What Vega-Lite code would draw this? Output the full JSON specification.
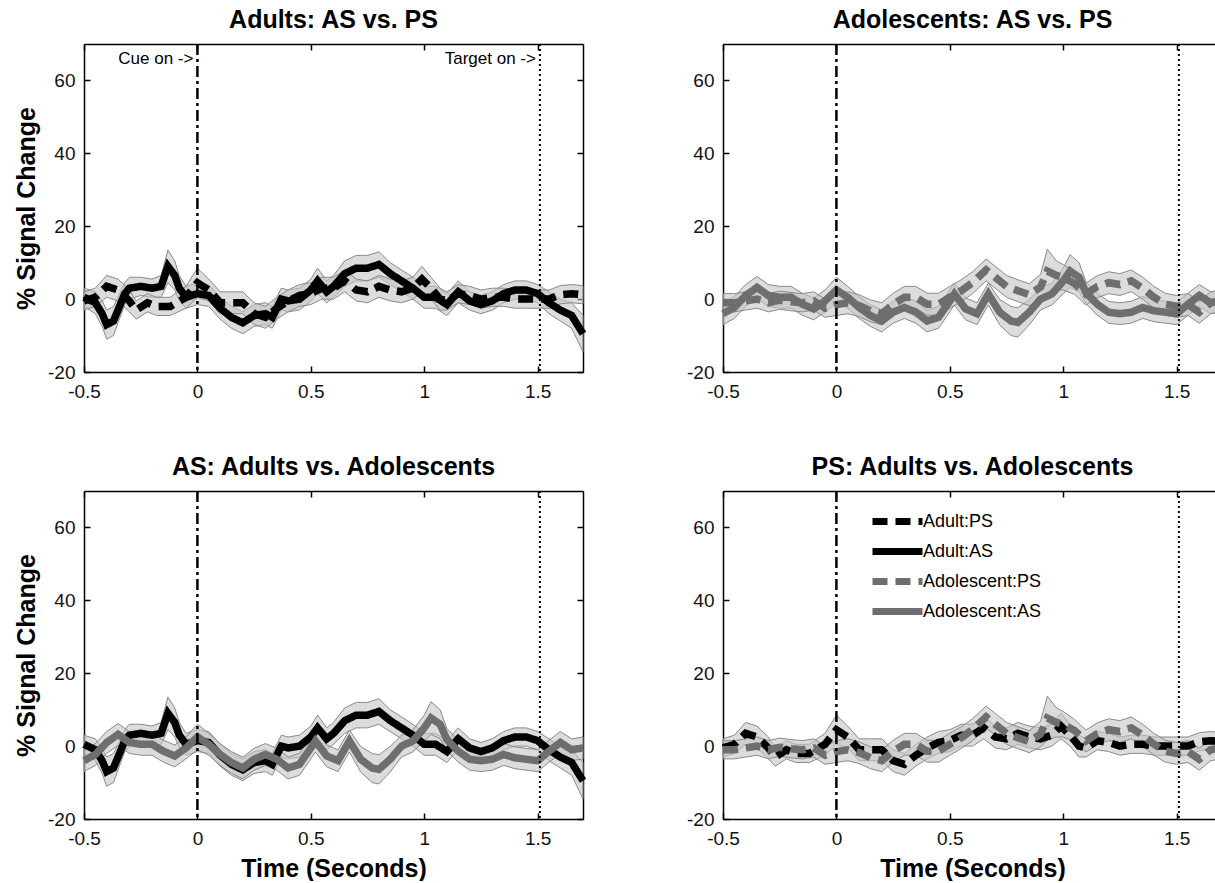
{
"$schema": "https://vega.github.io/schema/vega-lite/v6.json",
"background": "white",
"padding": {"left": 14, "top": 7, "right": 0, "bottom": 0},
"datasets": {
"sig": [
{"s":"Adult:AS","t":-0.5,"v":0.5,"lo":-2,"hi":3},
{"s":"Adult:AS","t":-0.45,"v":-1,"lo":-4,"hi":2},
{"s":"Adult:AS","t":-0.42,"v":-4,"lo":-7.5,"hi":-0.5},
{"s":"Adult:AS","t":-0.4,"v":-7,"lo":-11,"hi":-3},
{"s":"Adult:AS","t":-0.37,"v":-6,"lo":-10,"hi":-2},
{"s":"Adult:AS","t":-0.35,"v":-3,"lo":-6.5,"hi":0.5},
{"s":"Adult:AS","t":-0.32,"v":1.5,"lo":-1.5,"hi":4.5},
{"s":"Adult:AS","t":-0.3,"v":3,"lo":0,"hi":6},
{"s":"Adult:AS","t":-0.25,"v":3.5,"lo":1,"hi":6},
{"s":"Adult:AS","t":-0.2,"v":3,"lo":0.5,"hi":5.5},
{"s":"Adult:AS","t":-0.16,"v":3.5,"lo":0.5,"hi":6.5},
{"s":"Adult:AS","t":-0.13,"v":9,"lo":4.5,"hi":13.5},
{"s":"Adult:AS","t":-0.1,"v":6.5,"lo":2.5,"hi":10.5},
{"s":"Adult:AS","t":-0.08,"v":3,"lo":-0.5,"hi":6.5},
{"s":"Adult:AS","t":-0.05,"v":0.5,"lo":-2.5,"hi":3.5},
{"s":"Adult:AS","t":0,"v":1.5,"lo":-1.5,"hi":4.5},
{"s":"Adult:AS","t":0.05,"v":1,"lo":-2,"hi":4},
{"s":"Adult:AS","t":0.1,"v":-2.5,"lo":-5.5,"hi":0.5},
{"s":"Adult:AS","t":0.15,"v":-5,"lo":-8,"hi":-2},
{"s":"Adult:AS","t":0.2,"v":-6.5,"lo":-9.5,"hi":-3.5},
{"s":"Adult:AS","t":0.25,"v":-4.5,"lo":-7.5,"hi":-1.5},
{"s":"Adult:AS","t":0.3,"v":-4,"lo":-7,"hi":-1},
{"s":"Adult:AS","t":0.33,"v":-5,"lo":-8,"hi":-2},
{"s":"Adult:AS","t":0.37,"v":0,"lo":-3,"hi":3},
{"s":"Adult:AS","t":0.4,"v":-0.5,"lo":-3.5,"hi":2.5},
{"s":"Adult:AS","t":0.45,"v":0,"lo":-3,"hi":3},
{"s":"Adult:AS","t":0.5,"v":2.5,"lo":-0.5,"hi":5.5},
{"s":"Adult:AS","t":0.53,"v":5,"lo":1.5,"hi":8.5},
{"s":"Adult:AS","t":0.57,"v":2,"lo":-1,"hi":5},
{"s":"Adult:AS","t":0.6,"v":3.5,"lo":0.5,"hi":6.5},
{"s":"Adult:AS","t":0.65,"v":7,"lo":3.5,"hi":10.5},
{"s":"Adult:AS","t":0.7,"v":8.5,"lo":5,"hi":12},
{"s":"Adult:AS","t":0.75,"v":8.5,"lo":5,"hi":12},
{"s":"Adult:AS","t":0.8,"v":9.5,"lo":6,"hi":13},
{"s":"Adult:AS","t":0.85,"v":7,"lo":4,"hi":10},
{"s":"Adult:AS","t":0.9,"v":5,"lo":2,"hi":8},
{"s":"Adult:AS","t":0.95,"v":3,"lo":0,"hi":6},
{"s":"Adult:AS","t":1.0,"v":0.5,"lo":-2.5,"hi":3.5},
{"s":"Adult:AS","t":1.05,"v":0.5,"lo":-2.5,"hi":3.5},
{"s":"Adult:AS","t":1.1,"v":-1.5,"lo":-4.5,"hi":1.5},
{"s":"Adult:AS","t":1.15,"v":2,"lo":-1,"hi":5},
{"s":"Adult:AS","t":1.2,"v":-0.5,"lo":-3,"hi":2},
{"s":"Adult:AS","t":1.25,"v":-1.5,"lo":-4,"hi":1},
{"s":"Adult:AS","t":1.3,"v":-0.5,"lo":-3,"hi":2},
{"s":"Adult:AS","t":1.35,"v":1.5,"lo":-1,"hi":4},
{"s":"Adult:AS","t":1.4,"v":2.5,"lo":0,"hi":5},
{"s":"Adult:AS","t":1.45,"v":2.5,"lo":0,"hi":5},
{"s":"Adult:AS","t":1.5,"v":1.5,"lo":-1,"hi":4},
{"s":"Adult:AS","t":1.55,"v":-1,"lo":-4,"hi":2},
{"s":"Adult:AS","t":1.6,"v":-3,"lo":-6,"hi":0},
{"s":"Adult:AS","t":1.65,"v":-4.5,"lo":-8,"hi":-1},
{"s":"Adult:AS","t":1.7,"v":-9.5,"lo":-14.5,"hi":-4.5},
{"s":"Adult:PS","t":-0.5,"v":-0.5,"lo":-3,"hi":2},
{"s":"Adult:PS","t":-0.45,"v":0.5,"lo":-2,"hi":3},
{"s":"Adult:PS","t":-0.4,"v":3.5,"lo":0.5,"hi":6.5},
{"s":"Adult:PS","t":-0.35,"v":2.5,"lo":-0.5,"hi":5.5},
{"s":"Adult:PS","t":-0.3,"v":-0.5,"lo":-3.5,"hi":2.5},
{"s":"Adult:PS","t":-0.27,"v":-3,"lo":-5.5,"hi":-0.5},
{"s":"Adult:PS","t":-0.22,"v":-1,"lo":-3.5,"hi":1.5},
{"s":"Adult:PS","t":-0.18,"v":-2,"lo":-4.5,"hi":0.5},
{"s":"Adult:PS","t":-0.12,"v":-2,"lo":-4.5,"hi":0.5},
{"s":"Adult:PS","t":-0.05,"v":0.5,"lo":-2.5,"hi":3.5},
{"s":"Adult:PS","t":0,"v":4.5,"lo":0.5,"hi":8.5},
{"s":"Adult:PS","t":0.05,"v":2.5,"lo":-0.5,"hi":5.5},
{"s":"Adult:PS","t":0.1,"v":-1,"lo":-4,"hi":2},
{"s":"Adult:PS","t":0.15,"v":-1,"lo":-4,"hi":2},
{"s":"Adult:PS","t":0.2,"v":-1,"lo":-4,"hi":2},
{"s":"Adult:PS","t":0.25,"v":-4,"lo":-7,"hi":-1},
{"s":"Adult:PS","t":0.3,"v":-5,"lo":-8,"hi":-2},
{"s":"Adult:PS","t":0.35,"v":-2.5,"lo":-5.5,"hi":0.5},
{"s":"Adult:PS","t":0.4,"v":-0.5,"lo":-3.5,"hi":2.5},
{"s":"Adult:PS","t":0.45,"v":1,"lo":-2,"hi":4},
{"s":"Adult:PS","t":0.5,"v":1.5,"lo":-1.5,"hi":4.5},
{"s":"Adult:PS","t":0.55,"v":3,"lo":0,"hi":6},
{"s":"Adult:PS","t":0.6,"v":3,"lo":0,"hi":6},
{"s":"Adult:PS","t":0.65,"v":5,"lo":2,"hi":8},
{"s":"Adult:PS","t":0.7,"v":2.5,"lo":-0.5,"hi":5.5},
{"s":"Adult:PS","t":0.75,"v":2,"lo":-1,"hi":5},
{"s":"Adult:PS","t":0.8,"v":3.5,"lo":0.5,"hi":6.5},
{"s":"Adult:PS","t":0.85,"v":2.5,"lo":-0.5,"hi":5.5},
{"s":"Adult:PS","t":0.9,"v":2,"lo":-1,"hi":5},
{"s":"Adult:PS","t":0.95,"v":3,"lo":0,"hi":6},
{"s":"Adult:PS","t":0.99,"v":5.5,"lo":2,"hi":9},
{"s":"Adult:PS","t":1.03,"v":3,"lo":0,"hi":6},
{"s":"Adult:PS","t":1.07,"v":0,"lo":-3,"hi":3},
{"s":"Adult:PS","t":1.1,"v":-0.5,"lo":-3,"hi":2},
{"s":"Adult:PS","t":1.15,"v":1.5,"lo":-1,"hi":4},
{"s":"Adult:PS","t":1.2,"v":1,"lo":-1.5,"hi":3.5},
{"s":"Adult:PS","t":1.25,"v":0,"lo":-2.5,"hi":2.5},
{"s":"Adult:PS","t":1.3,"v":0.5,"lo":-2,"hi":3},
{"s":"Adult:PS","t":1.35,"v":0.5,"lo":-2,"hi":3},
{"s":"Adult:PS","t":1.4,"v":0,"lo":-2.5,"hi":2.5},
{"s":"Adult:PS","t":1.45,"v":0,"lo":-2.5,"hi":2.5},
{"s":"Adult:PS","t":1.5,"v":0,"lo":-2.5,"hi":2.5},
{"s":"Adult:PS","t":1.55,"v":0,"lo":-2.5,"hi":2.5},
{"s":"Adult:PS","t":1.6,"v":1.2,"lo":-1.3,"hi":3.7},
{"s":"Adult:PS","t":1.65,"v":1.5,"lo":-1,"hi":4},
{"s":"Adult:PS","t":1.7,"v":1.2,"lo":-1.3,"hi":3.7},
{"s":"Adolescent:AS","t":-0.5,"v":-4,"lo":-7,"hi":-1},
{"s":"Adolescent:AS","t":-0.45,"v":-2.3,"lo":-5.3,"hi":0.7},
{"s":"Adolescent:AS","t":-0.4,"v":1,"lo":-2,"hi":4},
{"s":"Adolescent:AS","t":-0.35,"v":3.2,"lo":0.2,"hi":6.2},
{"s":"Adolescent:AS","t":-0.3,"v":1,"lo":-2,"hi":4},
{"s":"Adolescent:AS","t":-0.25,"v":0.5,"lo":-2.5,"hi":3.5},
{"s":"Adolescent:AS","t":-0.2,"v":0.5,"lo":-2.5,"hi":3.5},
{"s":"Adolescent:AS","t":-0.15,"v":-1.4,"lo":-4.4,"hi":1.6},
{"s":"Adolescent:AS","t":-0.1,"v":-2.7,"lo":-5.7,"hi":0.3},
{"s":"Adolescent:AS","t":-0.05,"v":-0.5,"lo":-3.5,"hi":2.5},
{"s":"Adolescent:AS","t":0,"v":2.5,"lo":-1,"hi":6},
{"s":"Adolescent:AS","t":0.05,"v":0.5,"lo":-2.5,"hi":3.5},
{"s":"Adolescent:AS","t":0.1,"v":-2.3,"lo":-5.3,"hi":0.7},
{"s":"Adolescent:AS","t":0.15,"v":-4.5,"lo":-7.5,"hi":-1.5},
{"s":"Adolescent:AS","t":0.2,"v":-6,"lo":-9,"hi":-3},
{"s":"Adolescent:AS","t":0.25,"v":-3.6,"lo":-6.6,"hi":-0.6},
{"s":"Adolescent:AS","t":0.3,"v":-2.3,"lo":-5.3,"hi":0.7},
{"s":"Adolescent:AS","t":0.35,"v":-3.6,"lo":-6.6,"hi":-0.6},
{"s":"Adolescent:AS","t":0.4,"v":-6,"lo":-9,"hi":-3},
{"s":"Adolescent:AS","t":0.45,"v":-5,"lo":-8,"hi":-2},
{"s":"Adolescent:AS","t":0.5,"v":-0.5,"lo":-3.5,"hi":2.5},
{"s":"Adolescent:AS","t":0.52,"v":1.4,"lo":-1.6,"hi":4.4},
{"s":"Adolescent:AS","t":0.57,"v":-2.7,"lo":-5.7,"hi":0.3},
{"s":"Adolescent:AS","t":0.62,"v":-4,"lo":-7,"hi":-1},
{"s":"Adolescent:AS","t":0.67,"v":1.4,"lo":-1.6,"hi":4.4},
{"s":"Adolescent:AS","t":0.72,"v":-3.6,"lo":-7.1,"hi":-0.1},
{"s":"Adolescent:AS","t":0.77,"v":-6,"lo":-10,"hi":-2},
{"s":"Adolescent:AS","t":0.8,"v":-6.4,"lo":-10.4,"hi":-2.4},
{"s":"Adolescent:AS","t":0.85,"v":-3.6,"lo":-7.1,"hi":-0.1},
{"s":"Adolescent:AS","t":0.9,"v":0,"lo":-3,"hi":3},
{"s":"Adolescent:AS","t":0.95,"v":1.4,"lo":-1.6,"hi":4.4},
{"s":"Adolescent:AS","t":1.0,"v":5,"lo":1.5,"hi":8.5},
{"s":"Adolescent:AS","t":1.03,"v":7.7,"lo":3.2,"hi":12.2},
{"s":"Adolescent:AS","t":1.07,"v":6,"lo":2,"hi":10},
{"s":"Adolescent:AS","t":1.1,"v":1.8,"lo":-1.2,"hi":4.8},
{"s":"Adolescent:AS","t":1.15,"v":-1.4,"lo":-4.4,"hi":1.6},
{"s":"Adolescent:AS","t":1.2,"v":-3.6,"lo":-6.6,"hi":-0.6},
{"s":"Adolescent:AS","t":1.25,"v":-4,"lo":-7,"hi":-1},
{"s":"Adolescent:AS","t":1.3,"v":-3.6,"lo":-6.6,"hi":-0.6},
{"s":"Adolescent:AS","t":1.35,"v":-2.3,"lo":-5.3,"hi":0.7},
{"s":"Adolescent:AS","t":1.4,"v":-3.2,"lo":-6.2,"hi":-0.2},
{"s":"Adolescent:AS","t":1.45,"v":-3.6,"lo":-6.6,"hi":-0.6},
{"s":"Adolescent:AS","t":1.5,"v":-4,"lo":-7,"hi":-1},
{"s":"Adolescent:AS","t":1.55,"v":-1.4,"lo":-4.4,"hi":1.6},
{"s":"Adolescent:AS","t":1.6,"v":1,"lo":-2,"hi":4},
{"s":"Adolescent:AS","t":1.65,"v":-1,"lo":-4,"hi":2},
{"s":"Adolescent:AS","t":1.7,"v":-0.5,"lo":-3.5,"hi":2.5},
{"s":"Adolescent:PS","t":-0.5,"v":-1,"lo":-3.5,"hi":1.5},
{"s":"Adolescent:PS","t":-0.45,"v":-1,"lo":-3.5,"hi":1.5},
{"s":"Adolescent:PS","t":-0.4,"v":-0.5,"lo":-3,"hi":2},
{"s":"Adolescent:PS","t":-0.35,"v":0,"lo":-2.5,"hi":2.5},
{"s":"Adolescent:PS","t":-0.3,"v":-1,"lo":-3.5,"hi":1.5},
{"s":"Adolescent:PS","t":-0.25,"v":-0.3,"lo":-2.8,"hi":2.2},
{"s":"Adolescent:PS","t":-0.2,"v":-0.7,"lo":-3.2,"hi":1.8},
{"s":"Adolescent:PS","t":-0.15,"v":-1,"lo":-3.5,"hi":1.5},
{"s":"Adolescent:PS","t":-0.1,"v":-0.5,"lo":-3,"hi":2},
{"s":"Adolescent:PS","t":-0.05,"v":-2.5,"lo":-5,"hi":0},
{"s":"Adolescent:PS","t":0,"v":-1.5,"lo":-4.5,"hi":1.5},
{"s":"Adolescent:PS","t":0.05,"v":-1,"lo":-4,"hi":2},
{"s":"Adolescent:PS","t":0.1,"v":-1.8,"lo":-4.8,"hi":1.2},
{"s":"Adolescent:PS","t":0.15,"v":-3.2,"lo":-6.2,"hi":-0.2},
{"s":"Adolescent:PS","t":0.2,"v":-4,"lo":-7,"hi":-1},
{"s":"Adolescent:PS","t":0.25,"v":-1.4,"lo":-4.4,"hi":1.6},
{"s":"Adolescent:PS","t":0.3,"v":0.5,"lo":-2.5,"hi":3.5},
{"s":"Adolescent:PS","t":0.35,"v":0.5,"lo":-2.5,"hi":3.5},
{"s":"Adolescent:PS","t":0.4,"v":-1.4,"lo":-4.4,"hi":1.6},
{"s":"Adolescent:PS","t":0.45,"v":-1.4,"lo":-4.4,"hi":1.6},
{"s":"Adolescent:PS","t":0.5,"v":0.5,"lo":-2.5,"hi":3.5},
{"s":"Adolescent:PS","t":0.55,"v":2.3,"lo":-0.7,"hi":5.3},
{"s":"Adolescent:PS","t":0.6,"v":4.5,"lo":1.5,"hi":7.5},
{"s":"Adolescent:PS","t":0.66,"v":8,"lo":5,"hi":11},
{"s":"Adolescent:PS","t":0.7,"v":6,"lo":3,"hi":9},
{"s":"Adolescent:PS","t":0.75,"v":3.5,"lo":0.5,"hi":6.5},
{"s":"Adolescent:PS","t":0.8,"v":2.3,"lo":-0.7,"hi":5.3},
{"s":"Adolescent:PS","t":0.85,"v":1.2,"lo":-1.8,"hi":4.2},
{"s":"Adolescent:PS","t":0.9,"v":3.3,"lo":-0.2,"hi":6.8},
{"s":"Adolescent:PS","t":0.93,"v":7.7,"lo":1.7,"hi":13.7},
{"s":"Adolescent:PS","t":0.97,"v":6.5,"lo":2.5,"hi":10.5},
{"s":"Adolescent:PS","t":1.0,"v":6,"lo":2.5,"hi":9.5},
{"s":"Adolescent:PS","t":1.05,"v":4.3,"lo":1.3,"hi":7.3},
{"s":"Adolescent:PS","t":1.1,"v":1.4,"lo":-1.6,"hi":4.4},
{"s":"Adolescent:PS","t":1.15,"v":3.4,"lo":0.4,"hi":6.4},
{"s":"Adolescent:PS","t":1.2,"v":4.5,"lo":1.5,"hi":7.5},
{"s":"Adolescent:PS","t":1.25,"v":4,"lo":1,"hi":7},
{"s":"Adolescent:PS","t":1.3,"v":5,"lo":2,"hi":8},
{"s":"Adolescent:PS","t":1.35,"v":3,"lo":0,"hi":6},
{"s":"Adolescent:PS","t":1.4,"v":0.5,"lo":-2.5,"hi":3.5},
{"s":"Adolescent:PS","t":1.45,"v":-1.4,"lo":-4.4,"hi":1.6},
{"s":"Adolescent:PS","t":1.5,"v":-2,"lo":-5,"hi":1},
{"s":"Adolescent:PS","t":1.55,"v":-1.5,"lo":-4.5,"hi":1.5},
{"s":"Adolescent:PS","t":1.6,"v":-3.6,"lo":-6.6,"hi":-0.6},
{"s":"Adolescent:PS","t":1.65,"v":-1,"lo":-4,"hi":2},
{"s":"Adolescent:PS","t":1.7,"v":-0.5,"lo":-3.5,"hi":2.5}
],
"events": [{"kind":"cue","t":0},{"kind":"target","t":1.51}],
"notes": [{"t":0,"y":66,"label":"Cue on ->"},{"t":1.51,"y":66,"label":"Target on ->"}]
},
"columns": 2,
"spacing": {"column": 88, "row": 53},
"resolve": {"legend": {"stroke": "independent", "strokeDash": "independent"}},
"concat": [
{
"width": 499, "height": 328,
"title": {"text": "Adults: AS vs. PS"},
"layer": [
{"data": {"name": "sig"}, "transform": [{"filter": {"field": "s", "oneOf": ["Adult:PS","Adult:AS"]}}],
 "mark": {"type": "area", "fill": "#c4c4c4", "fillOpacity": 0.6, "stroke": "#8a8a8a", "strokeWidth": 1},
 "encoding": {
  "x": {"field": "t", "type": "quantitative", "scale": {"domain": [-0.5, 1.7], "nice": false}, "axis": {"orient": "top", "labels": false, "title": null, "values": [-0.5,0,0.5,1,1.5]}},
  "y": {"field": "lo", "type": "quantitative", "scale": {"domain": [-20, 70], "nice": false}, "axis": {"orient": "right", "labels": false, "title": null, "values": [-20,0,20,40,60]}},
  "y2": {"field": "hi"},
  "detail": {"field": "s"}}},
{"data": {"name": "sig"}, "transform": [{"filter": {"field": "s", "oneOf": ["Adult:PS","Adult:AS"]}}],
 "mark": {"type": "line", "strokeWidth": 7.5},
 "encoding": {
  "x": {"field": "t", "type": "quantitative", "axis": {"orient": "bottom", "title": null, "values": [-0.5,0,0.5,1,1.5], "labelExpr": "'' + datum.value"}},
  "y": {"field": "v", "type": "quantitative", "axis": {"orient": "left", "title": "% Signal Change", "values": [-20,0,20,40,60], "labelExpr": "'' + datum.value"}},
  "stroke": {"field": "s", "type": "nominal", "scale": {"domain": ["Adult:PS","Adult:AS","Adolescent:PS","Adolescent:AS"], "range": ["#000000","#000000","#6e6e6e","#6e6e6e"]}, "legend": null},
  "strokeDash": {"field": "s", "type": "nominal", "scale": {"domain": ["Adult:PS","Adult:AS","Adolescent:PS","Adolescent:AS"], "range": [[15,8],[1,0],[15,8],[1,0]]}, "legend": null}}},
{"data": {"name": "events"}, "transform": [{"filter": "datum.kind == 'cue'"}],
 "mark": {"type": "rule", "color": "black", "strokeWidth": 2.5, "strokeDash": [11,4,3,4]},
 "encoding": {"x": {"field": "t", "type": "quantitative", "axis": null}}},
{"data": {"name": "events"}, "transform": [{"filter": "datum.kind == 'target'"}],
 "mark": {"type": "rule", "color": "black", "strokeWidth": 2, "strokeDash": [2,3]},
 "encoding": {"x": {"field": "t", "type": "quantitative", "axis": null}}},
{"data": {"name": "notes"},
 "mark": {"type": "text", "align": "right", "baseline": "middle", "dx": -4, "fontSize": 17, "font": "Liberation Sans", "color": "black"},
 "encoding": {"x": {"field": "t", "type": "quantitative", "axis": null}, "y": {"field": "y", "type": "quantitative", "axis": null}, "text": {"field": "label"}}}
],
"resolve": {"axis": {"x": "independent", "y": "independent"}}
},
{
"width": 499, "height": 328,
"title": {"text": "Adolescents: AS vs. PS"},
"layer": [
{"data": {"name": "sig"}, "transform": [{"filter": {"field": "s", "oneOf": ["Adolescent:PS","Adolescent:AS"]}}],
 "mark": {"type": "area", "fill": "#c4c4c4", "fillOpacity": 0.6, "stroke": "#8a8a8a", "strokeWidth": 1},
 "encoding": {
  "x": {"field": "t", "type": "quantitative", "scale": {"domain": [-0.5, 1.7], "nice": false}, "axis": {"orient": "top", "labels": false, "title": null, "values": [-0.5,0,0.5,1,1.5]}},
  "y": {"field": "lo", "type": "quantitative", "scale": {"domain": [-20, 70], "nice": false}, "axis": {"orient": "right", "labels": false, "title": null, "values": [-20,0,20,40,60]}},
  "y2": {"field": "hi"},
  "detail": {"field": "s"}}},
{"data": {"name": "sig"}, "transform": [{"filter": {"field": "s", "oneOf": ["Adolescent:PS","Adolescent:AS"]}}],
 "mark": {"type": "line", "strokeWidth": 7.5},
 "encoding": {
  "x": {"field": "t", "type": "quantitative", "axis": {"orient": "bottom", "title": null, "values": [-0.5,0,0.5,1,1.5], "labelExpr": "'' + datum.value"}},
  "y": {"field": "v", "type": "quantitative", "axis": {"orient": "left", "title": null, "values": [-20,0,20,40,60], "labelExpr": "'' + datum.value"}},
  "stroke": {"field": "s", "type": "nominal", "scale": {"domain": ["Adult:PS","Adult:AS","Adolescent:PS","Adolescent:AS"], "range": ["#000000","#000000","#6e6e6e","#6e6e6e"]}, "legend": null},
  "strokeDash": {"field": "s", "type": "nominal", "scale": {"domain": ["Adult:PS","Adult:AS","Adolescent:PS","Adolescent:AS"], "range": [[15,8],[1,0],[15,8],[1,0]]}, "legend": null}}},
{"data": {"name": "events"}, "transform": [{"filter": "datum.kind == 'cue'"}],
 "mark": {"type": "rule", "color": "black", "strokeWidth": 2.5, "strokeDash": [11,4,3,4]},
 "encoding": {"x": {"field": "t", "type": "quantitative", "axis": null}}},
{"data": {"name": "events"}, "transform": [{"filter": "datum.kind == 'target'"}],
 "mark": {"type": "rule", "color": "black", "strokeWidth": 2, "strokeDash": [2,3]},
 "encoding": {"x": {"field": "t", "type": "quantitative", "axis": null}}}
],
"resolve": {"axis": {"x": "independent", "y": "independent"}}
},
{
"width": 499, "height": 328,
"title": {"text": "AS: Adults vs. Adolescents"},
"layer": [
{"data": {"name": "sig"}, "transform": [{"filter": {"field": "s", "oneOf": ["Adult:AS","Adolescent:AS"]}}],
 "mark": {"type": "area", "fill": "#c4c4c4", "fillOpacity": 0.6, "stroke": "#8a8a8a", "strokeWidth": 1},
 "encoding": {
  "x": {"field": "t", "type": "quantitative", "scale": {"domain": [-0.5, 1.7], "nice": false}, "axis": {"orient": "top", "labels": false, "title": null, "values": [-0.5,0,0.5,1,1.5]}},
  "y": {"field": "lo", "type": "quantitative", "scale": {"domain": [-20, 70], "nice": false}, "axis": {"orient": "right", "labels": false, "title": null, "values": [-20,0,20,40,60]}},
  "y2": {"field": "hi"},
  "detail": {"field": "s"}}},
{"data": {"name": "sig"}, "transform": [{"filter": {"field": "s", "oneOf": ["Adult:AS","Adolescent:AS"]}}],
 "mark": {"type": "line", "strokeWidth": 7.5},
 "encoding": {
  "x": {"field": "t", "type": "quantitative", "axis": {"orient": "bottom", "title": "Time (Seconds)", "values": [-0.5,0,0.5,1,1.5], "labelExpr": "'' + datum.value"}},
  "y": {"field": "v", "type": "quantitative", "axis": {"orient": "left", "title": "% Signal Change", "values": [-20,0,20,40,60], "labelExpr": "'' + datum.value"}},
  "stroke": {"field": "s", "type": "nominal", "scale": {"domain": ["Adult:PS","Adult:AS","Adolescent:PS","Adolescent:AS"], "range": ["#000000","#000000","#6e6e6e","#6e6e6e"]}, "legend": null},
  "strokeDash": {"field": "s", "type": "nominal", "scale": {"domain": ["Adult:PS","Adult:AS","Adolescent:PS","Adolescent:AS"], "range": [[15,8],[1,0],[15,8],[1,0]]}, "legend": null}}},
{"data": {"name": "events"}, "transform": [{"filter": "datum.kind == 'cue'"}],
 "mark": {"type": "rule", "color": "black", "strokeWidth": 2.5, "strokeDash": [11,4,3,4]},
 "encoding": {"x": {"field": "t", "type": "quantitative", "axis": null}}},
{"data": {"name": "events"}, "transform": [{"filter": "datum.kind == 'target'"}],
 "mark": {"type": "rule", "color": "black", "strokeWidth": 2, "strokeDash": [2,3]},
 "encoding": {"x": {"field": "t", "type": "quantitative", "axis": null}}}
],
"resolve": {"axis": {"x": "independent", "y": "independent"}}
},
{
"width": 499, "height": 328,
"title": {"text": "PS: Adults vs. Adolescents"},
"layer": [
{"data": {"name": "sig"}, "transform": [{"filter": {"field": "s", "oneOf": ["Adult:PS","Adolescent:PS"]}}],
 "mark": {"type": "area", "fill": "#c4c4c4", "fillOpacity": 0.6, "stroke": "#8a8a8a", "strokeWidth": 1},
 "encoding": {
  "x": {"field": "t", "type": "quantitative", "scale": {"domain": [-0.5, 1.7], "nice": false}, "axis": {"orient": "top", "labels": false, "title": null, "values": [-0.5,0,0.5,1,1.5]}},
  "y": {"field": "lo", "type": "quantitative", "scale": {"domain": [-20, 70], "nice": false}, "axis": {"orient": "right", "labels": false, "title": null, "values": [-20,0,20,40,60]}},
  "y2": {"field": "hi"},
  "detail": {"field": "s"}}},
{"data": {"name": "sig"}, "transform": [{"filter": {"field": "s", "oneOf": ["Adult:PS","Adolescent:PS"]}}],
 "mark": {"type": "line", "strokeWidth": 7.5},
 "encoding": {
  "x": {"field": "t", "type": "quantitative", "axis": {"orient": "bottom", "title": "Time (Seconds)", "values": [-0.5,0,0.5,1,1.5], "labelExpr": "'' + datum.value"}},
  "y": {"field": "v", "type": "quantitative", "axis": {"orient": "left", "title": null, "values": [-20,0,20,40,60], "labelExpr": "'' + datum.value"}},
  "stroke": {"field": "s", "type": "nominal", "scale": {"domain": ["Adult:PS","Adult:AS","Adolescent:PS","Adolescent:AS"], "range": ["#000000","#000000","#6e6e6e","#6e6e6e"]},
    "legend": {"orient": "none", "legendX": 161, "legendY": 17, "title": null, "symbolType": "M-2.5,0H2.5", "symbolSize": 400, "symbolStrokeWidth": 7, "labelOffset": 12, "rowPadding": 1, "padding": 0}},
  "strokeDash": {"field": "s", "type": "nominal", "scale": {"domain": ["Adult:PS","Adult:AS","Adolescent:PS","Adolescent:AS"], "range": [[15,8],[1,0],[15,8],[1,0]]},
    "legend": {"orient": "none", "legendX": 161, "legendY": 17, "title": null, "symbolType": "M-2.5,0H2.5", "symbolSize": 400, "symbolStrokeWidth": 7, "labelOffset": 12, "rowPadding": 1, "padding": 0}}}},
{"data": {"name": "events"}, "transform": [{"filter": "datum.kind == 'cue'"}],
 "mark": {"type": "rule", "color": "black", "strokeWidth": 2.5, "strokeDash": [11,4,3,4]},
 "encoding": {"x": {"field": "t", "type": "quantitative", "axis": null}}},
{"data": {"name": "events"}, "transform": [{"filter": "datum.kind == 'target'"}],
 "mark": {"type": "rule", "color": "black", "strokeWidth": 2, "strokeDash": [2,3]},
 "encoding": {"x": {"field": "t", "type": "quantitative", "axis": null}}}
],
"resolve": {"axis": {"x": "independent", "y": "independent"}}
}
],
"config": {
 "view": {"stroke": null},
 "font": "Liberation Sans",
 "axis": {"grid": false, "domainColor": "black", "domainWidth": 1.5, "tickColor": "black", "tickWidth": 1.5, "tickSize": -6, "labelFont": "Liberation Sans", "labelFontSize": 19, "labelColor": "#111111", "labelPadding": 15, "labelFlush": false, "labelOverlap": false, "titleFont": "Liberation Sans", "titleFontSize": 25, "titleFontWeight": "bold", "titleColor": "black", "titlePadding": 8},
 "axisX": {"labelPadding": 16},
 "title": {"font": "Liberation Sans", "fontSize": 25, "fontWeight": "bold", "color": "black", "anchor": "middle", "frame": "group", "offset": 10},
 "legend": {"labelFont": "Liberation Sans", "labelFontSize": 18, "labelColor": "black"}
}
}
